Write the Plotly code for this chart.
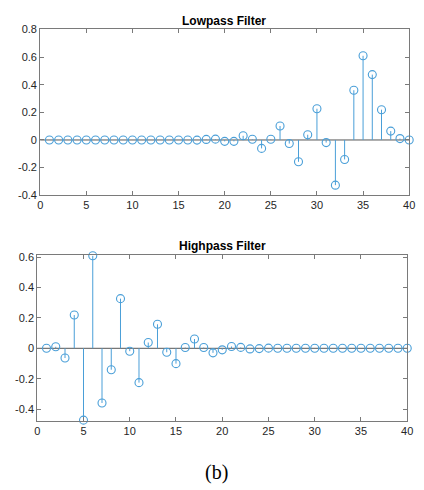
import plotly.graph_objects as go

n = list(range(1, 41))
lowpass = [0.0, 0.0, 0.0, 0.0, 0.0, 0.0, 0.0, 0.0, 0.0, 0.0,
           0.0, 0.0, 0.0, 0.0, 0.0, 0.0, -0.001, 0.004, 0.006, -0.01,
           -0.01, 0.03, 0.005, -0.061, 0.005, 0.101, -0.026, -0.158, 0.038, 0.226,
           -0.019, -0.327, -0.141, 0.36, 0.609, 0.473, 0.219, 0.064, 0.01, 0.0]
highpass = [0.0, 0.01, -0.064, 0.219, -0.473, 0.609, -0.36, -0.141, 0.327, -0.019,
            -0.226, 0.038, 0.158, -0.026, -0.101, 0.005, 0.061, 0.005, -0.03, -0.01,
            0.012, 0.006, -0.004, -0.002, 0.001, 0.0, 0.0, 0.0, 0.0, 0.0,
            0.0, 0.0, 0.0, 0.0, 0.0, 0.0, 0.0, 0.0, 0.0, 0.0]
x_ticks = [0, 5, 10, 15, 20, 25, 30, 35, 40]
y_ticks_top = [-0.4, -0.2, 0, 0.2, 0.4, 0.6, 0.8]
y_ticks_bottom = [-0.4, -0.2, 0, 0.2, 0.4, 0.6]
titles = ["Lowpass Filter", "Highpass Filter"]
caption = "(b)"

STEM = "#4a9fd8"
AX = "#7a7a7a"
TXT = "#262626"
W, H = 424, 490


def px_x(p):
    return p / W


def px_y(p):
    return 1 - p / H


def fmt(v):
    return "%g" % v


def stem_xy(xs, ys):
    sx, sy = [], []
    for a, b in zip(xs, ys):
        sx += [a, a, None]
        sy += [0, b, None]
    return sx, sy


fig = go.Figure()
for i, data in enumerate([lowpass, highpass]):
    xa = "x" if i == 0 else "x2"
    ya = "y" if i == 0 else "y2"
    sx, sy = stem_xy(n, data)
    fig.add_trace(go.Scatter(x=sx, y=sy, mode="lines", line=dict(color=STEM, width=1),
                             xaxis=xa, yaxis=ya, showlegend=False, hoverinfo="skip"))
    fig.add_trace(go.Scatter(x=n, y=data, mode="markers",
                             marker=dict(symbol="circle-open", size=8, color=STEM,
                                         line=dict(width=1.1, color=STEM)),
                             xaxis=xa, yaxis=ya, showlegend=False, cliponaxis=False))

axcommon = dict(showline=True, mirror="ticks", linecolor=AX, linewidth=1,
                ticks="inside", ticklen=4, tickcolor=AX, showgrid=False, zeroline=False,
                tickfont=dict(family="Liberation Sans, Arial", size=11, color=TXT))

fig.update_layout(
    width=W, height=H, margin=dict(l=0, r=0, t=0, b=0),
    paper_bgcolor="white", plot_bgcolor="white",
    xaxis=dict(domain=[px_x(38), px_x(415)], range=[0, 40], tickvals=x_ticks,
               ticktext=[fmt(v) for v in x_ticks], anchor="y", **axcommon),
    yaxis=dict(domain=[px_y(194), px_y(24)], range=[-0.4, 0.8], tickvals=y_ticks_top,
               ticktext=[fmt(v) for v in y_ticks_top], anchor="x", **axcommon),
    xaxis2=dict(domain=[px_x(35), px_x(413)], range=[0, 40], tickvals=x_ticks,
                ticktext=[fmt(v) for v in x_ticks], anchor="y2", **axcommon),
    yaxis2=dict(domain=[px_y(425), px_y(255)], range=[-0.476, 0.616], tickvals=y_ticks_bottom,
                ticktext=[fmt(v) for v in y_ticks_bottom], anchor="x2", **axcommon),
    shapes=[
        dict(type="line", xref="x domain", yref="y", x0=0, x1=1, y0=0, y1=0,
             line=dict(color="#555555", width=1), layer="below"),
        dict(type="line", xref="x2 domain", yref="y2", x0=0, x1=1, y0=0, y1=0,
             line=dict(color="#555555", width=1), layer="below"),
    ],
    annotations=[
        dict(text="<b>" + titles[0] + "</b>", x=px_x(226), y=px_y(15), xref="paper", yref="paper",
             xanchor="center", yanchor="middle", showarrow=False,
             font=dict(family="Liberation Sans, Arial", size=12, color="black")),
        dict(text="<b>" + titles[1] + "</b>", x=px_x(224), y=px_y(246), xref="paper", yref="paper",
             xanchor="center", yanchor="middle", showarrow=False,
             font=dict(family="Liberation Sans, Arial", size=12, color="black")),
        dict(text=caption, x=px_x(218), y=px_y(478), xref="paper", yref="paper",
             xanchor="center", yanchor="middle", showarrow=False,
             font=dict(family="Liberation Serif, Times New Roman", size=20, color="black")),
    ],
)

fig.write_html(
    "out.html",
    config={"displayModeBar": False},
    post_script=(
        "document.documentElement.style.margin='0';"
        "document.documentElement.style.padding='0';"
        "document.documentElement.style.overflow='hidden';"
        "document.body.style.margin='0';"
        "document.body.style.padding='0';"
        "document.body.style.overflow='hidden';"
    ),
)
